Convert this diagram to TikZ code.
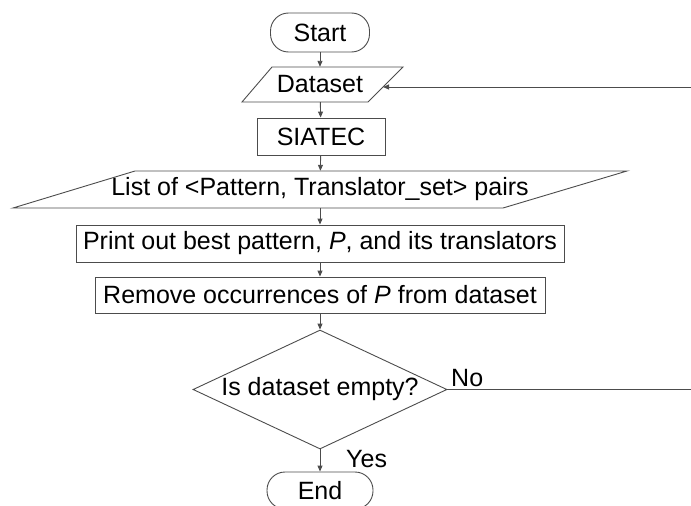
\documentclass[tikz,border=0pt]{standalone}
\usepackage{fontspec}
\setmainfont{Liberation Sans}
\usetikzlibrary{arrows.meta,shapes.geometric}
\begin{document}
\begin{tikzpicture}[x=1pt,y=-1pt,
  font=\fontsize{25}{30}\selectfont,
  line/.style={draw=black!70, line width=0.9pt},
  arr/.style={line, -{Triangle[length=6pt,width=5pt]}},
  box/.style={line, rectangle, inner sep=0pt, minimum height=37pt},
  term/.style={box, rounded corners=18pt},
  txt/.style={inner sep=0pt, minimum height=37pt}]
\useasboundingbox (0,0) rectangle (691,506);

\node[term, minimum width=99pt, minimum height=39pt] (start) at (320,32.5) {Start};

\node[txt, minimum height=35pt, minimum width=60pt] (ds) at (320,84.5) {Dataset};
\draw[line] (272,67) -- (403,67) -- (368,102) -- (242,102) -- cycle;
\coordinate (dsr) at (383,87);

\node[box, minimum width=128pt] (siatec) at (321,136.5) {SIATEC};

\node[txt] (lst) at (320,189.5) {List of <Pattern, Translator\_set> pairs};
\draw[line] (135,171) -- (627,171) -- (503,208) -- (13,208) -- cycle;

\node[box, minimum width=488pt] (print) at (320,243.5) {Print out best pattern, \textit{P}, and its translators};
\node[box, minimum width=450pt, minimum height=36pt] (remove) at (320,295) {Remove occurrences of \textit{P} from dataset};

\node[line, diamond, aspect=2.13, inner sep=0pt, minimum width=254pt, minimum height=119pt] (dec) at (320,389.5) {Is dataset empty?};

\node[term, minimum width=106pt] (end) at (320,490.5) {End};

\node[anchor=base west, inner sep=0pt] (no) at (451,386) {No};
\node[anchor=base west, inner sep=0pt] (yes) at (346,467) {Yes};

\coordinate (loop) at (694,389.5);

\draw[arr] (start) -- (ds);
\draw[arr] (ds) -- (siatec);
\draw[arr] (siatec) -- (lst);
\draw[arr] (lst) -- (print);
\draw[arr] (print) -- (remove);
\draw[arr] (remove) -- (dec);
\draw[arr] (dec) -- (end);
\draw[arr] (dec.east) -- (loop) |- (dsr);
\end{tikzpicture}
\end{document}
